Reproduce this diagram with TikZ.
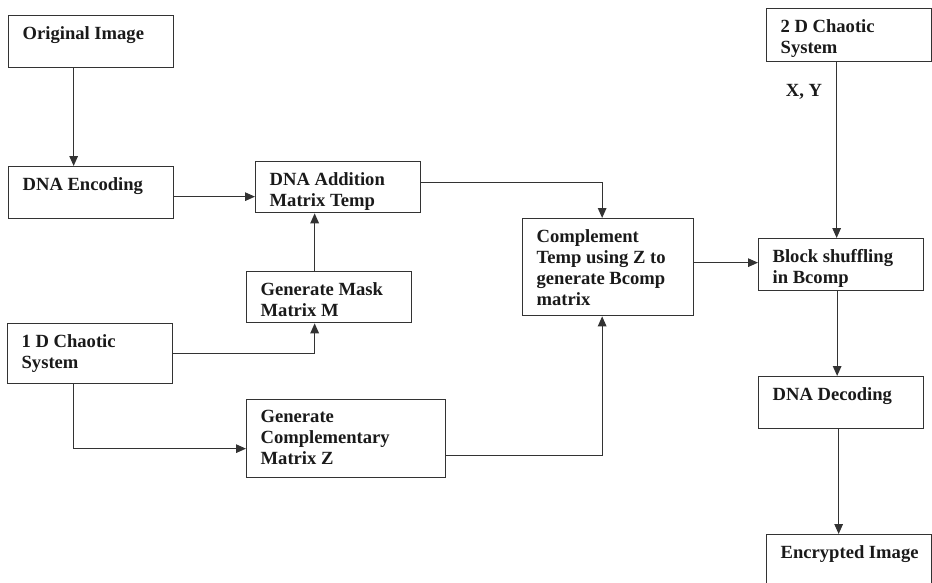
\documentclass[tikz,border=0pt]{standalone}
\usepackage{fontspec}
\setmainfont{Liberation Serif}
\usetikzlibrary{arrows.meta}
\definecolor{boxline}{HTML}{333333}
\definecolor{ink}{HTML}{1A1A1A}
\newcommand{\boxtext}[3]{\parbox[c][#2][t]{#1}{\raggedright\leftskip=14pt\relax\vspace*{10.5pt}#3}}

\begin{document}
\begin{tikzpicture}[x=1pt,y=-1pt,
	blk/.style={draw=boxline,line width=1.3pt,anchor=north west,inner sep=0pt,text=ink,font=\bfseries\fontsize{18.6}{21}\selectfont},
	arr/.style={-{Triangle[length=10pt,width=8.5pt]},draw=boxline,line width=1.3pt},
	lbl/.style={inner sep=0pt,text=ink,font=\bfseries\fontsize{18.6}{21}\selectfont}]
			\useasboundingbox (0,0) rectangle (932,582);
			\clip (0,0) rectangle (932,582);
			\node[blk] (orig)   at (8,15)    {\boxtext{165pt}{52pt}{Original Image}};
			\node[blk] (enc)    at (8,166)   {\boxtext{165pt}{52pt}{DNA Encoding}};
			\node[blk] (add)    at (255,161) {\boxtext{165pt}{51pt}{DNA Addition\\Matrix Temp}};
			\node[blk] (mask)   at (246,271) {\boxtext{165pt}{51pt}{Generate Mask\\Matrix M}};
			\node[blk] (chaoA)  at (7,323)   {\boxtext{165pt}{60pt}{1 D Chaotic\\System}};
			\node[blk] (compz)  at (246,399) {\boxtext{199pt}{78pt}{Generate\\Complementary\\Matrix Z}};
			\node[blk] (bcomp)  at (522,218) {\boxtext{171pt}{97pt}{Complement\\Temp using Z to\\generate Bcomp\\matrix}};
			\node[blk] (chaoB)  at (766,8)   {\boxtext{165pt}{53pt}{2 D Chaotic\\System}};
			\node[blk] (shuf)   at (758,238) {\boxtext{165pt}{52pt}{Block shuffling\\in Bcomp}};
			\node[blk] (dec)    at (758,376) {\boxtext{165pt}{52pt}{DNA Decoding}};
			\node[blk] (encimg) at (766,534) {\boxtext{165pt}{60pt}{Encrypted Image}};
			\draw[arr] ([xshift=-17.5pt]orig.south) -- ([xshift=-17.5pt]enc.north);
			\draw[arr] ([yshift=-4pt]enc.east) -- ([yshift=-4pt]enc.east -| add.west);
			\draw[arr] ([xshift=-14.5pt]mask.north) -- ([xshift=-14.5pt]mask.north |- add.south);
			\draw[arr] (chaoA.east) -| ([xshift=-14.5pt]mask.south);
			\draw[arr] ([xshift=-16.5pt]chaoA.south) |- ([yshift=-10pt]compz.west);
			\draw[arr] ([yshift=4.5pt]add.east) -| ([xshift=-6pt]bcomp.north);
			\draw[arr] ([yshift=-17pt]compz.east) -| ([xshift=-6pt]bcomp.south);
			\draw[arr] ([yshift=4.5pt]bcomp.east) -- ([yshift=4.5pt]bcomp.east -| shuf.west);
			\draw[arr] ([xshift=-12.5pt]chaoB.south) -- node[lbl,pos=0.17,left=14pt] (xy) {X, Y} ([xshift=-12.5pt]chaoB.south |- shuf.north);
			\draw[arr] ([xshift=-4pt]shuf.south) -- ([xshift=-4pt]shuf.south |- dec.north);
			\draw[arr] ([xshift=-2.5pt]dec.south) -- ([xshift=-2.5pt]dec.south |- encimg.north);
		\end{tikzpicture}
\end{document}
